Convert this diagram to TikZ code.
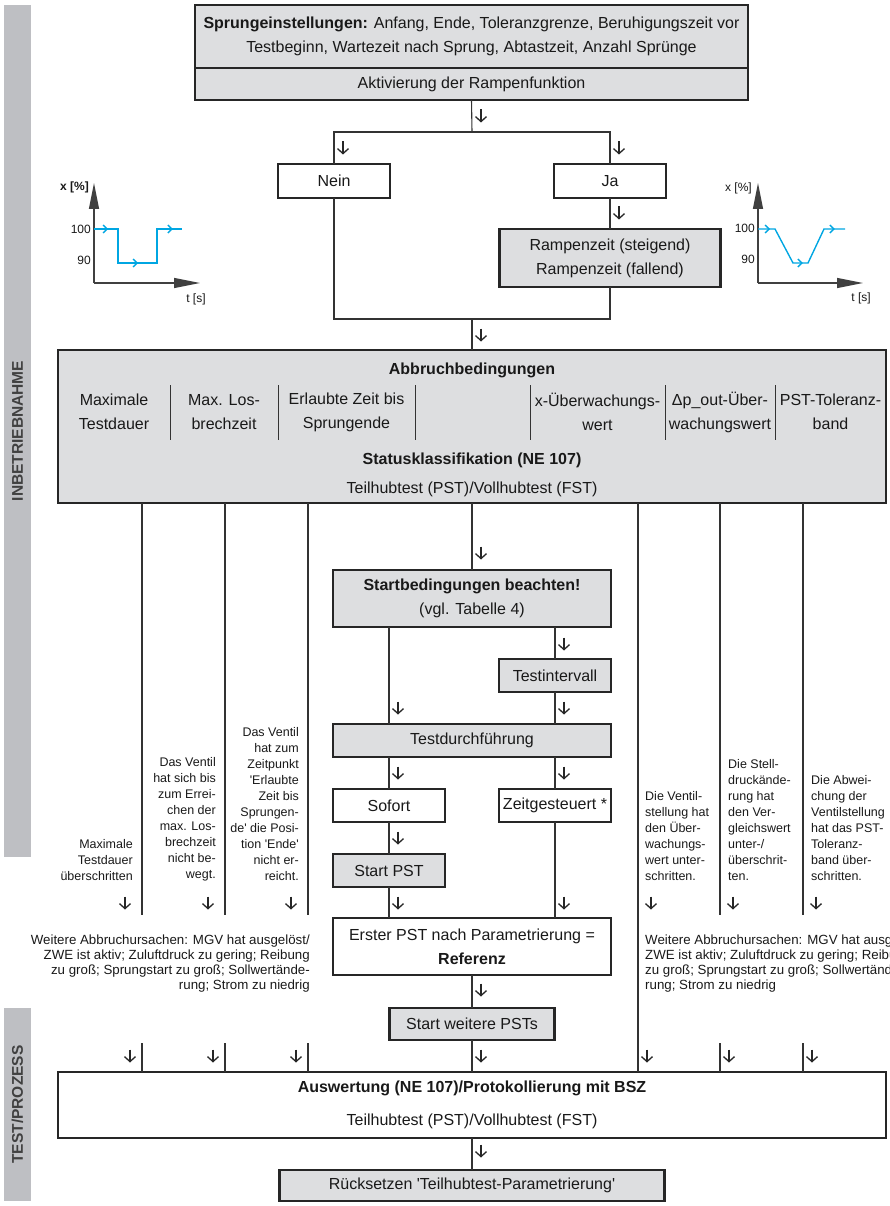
\documentclass[tikz,border=0pt]{standalone}
\usepackage{fontspec}
\setmainfont{Liberation Sans}
\usetikzlibrary{arrows.meta,positioning,decorations.markings}

\definecolor{boxgray}{RGB}{221,222,224}
\definecolor{bargray}{RGB}{190,191,195}
\definecolor{curveblue}{RGB}{0,166,226}

\tikzset{
  darr/.pic={\draw[line width=1.3pt, black!85, -{Straight Barb[length=5pt,width=11pt]}] (0,6.5) -- (0,-6.5);},
}

\begin{document}
\begin{tikzpicture}[x=1pt, y=1pt,
    every node/.style={font=\fontsize{16}{24}\selectfont, text=black!90},
    box/.style={draw=black!85, line width=2.6pt, fill=white, outer sep=0pt, inner sep=0pt, align=center},
    gbox/.style={box, fill=boxgray},
    phase/.style={fill=bargray, rotate=90, minimum height=27pt, inner sep=0pt, font=\fontsize{15.5}{16}\selectfont\bfseries, text=black!75},
    conn/.style={draw=black!80, line width=1.1pt},
    sep/.style={draw=black!80, line width=1pt},
    reason/.style={font=\fontsize{12.5}{16}\selectfont, inner sep=0pt},
    note/.style={font=\fontsize{13.3}{15}\selectfont, inner sep=0pt},
    axlab/.style={font=\fontsize{12}{14}\selectfont, inner sep=0pt},
    axis/.style={draw=black!75, line width=1.3pt, -{Triangle[length=26pt,width=10pt]}},
    curve/.style={draw=curveblue, line width=1.4pt, postaction=decorate},
  ]
  \useasboundingbox (0,0) rectangle (889,-1206);

  % phase bars
  \node[phase, minimum width=852pt] (inbetr) at (17.5,-431) {INBETRIEBNAHME};
  \node[phase, minimum width=193pt] (testproz) at (17.5,-1104.5) {TEST/PROZESS};

  % step settings
  \node[gbox, minimum width=553pt, minimum height=63pt] (sprung) at (471.5,-36.5)
    {\textbf{Sprungeinstellungen:} Anfang, Ende, Toleranzgrenze, Beruhigungszeit vor\\Testbeginn, Wartezeit nach Sprung, Abtastzeit, Anzahl Sprünge};
  \node[gbox, minimum width=553pt, minimum height=32pt, below=0pt of sprung] (akt) {Aktivierung der Rampenfunktion};

  \coordinate (split) at (472,-132);
  \coordinate (join) at (472,-319);
  \node[box, minimum width=112pt, minimum height=34pt] (nein) at (334,-181) {Nein};
  \node[box, minimum width=112pt, minimum height=34pt] (ja) at (610,-181) {Ja};
  \node[gbox, minimum width=221pt, minimum height=58pt, below=31pt of ja] (ramp) {Rampenzeit (steigend)\\Rampenzeit (fallend)};

  % step graphs
  \coordinate (lo) at (94,-283);
  \draw[axis] (lo) -- ++(0,100);
  \draw[axis] (lo) -- ++(106,0);
  \draw[curve, decoration={markings,
      mark=at position 0.09 with {\arrow{Straight Barb[length=4pt,width=8pt]}},
      mark=at position 0.5 with {\arrow{Straight Barb[length=4pt,width=8pt]}},
      mark=at position 0.942 with {\arrow{Straight Barb[length=4pt,width=8pt]}}}]
    (94,-229) -- (118,-229) -- (118,-263) -- (157,-263) -- (157,-229) -- (182,-229);
  \node[axlab, anchor=east, font=\fontsize{12}{14}\selectfont\bfseries] (lx) at (89,-187) {x [\%]};
  \node[axlab, anchor=east] (l100) at (91,-229) {100};
  \node[axlab, anchor=east] (l90) at (91,-260) {90};
  \node[axlab] (lt) at (196,-299) {t [s]};

  \coordinate (ro) at (758,-283);
  \draw[axis] (ro) -- ++(0,100);
  \draw[axis] (ro) -- ++(105,0);
  \draw[curve, decoration={markings,
      mark=at position 0.093 with {\arrow{Straight Barb[length=4pt,width=8pt]}},
      mark=at position 0.507 with {\arrow{Straight Barb[length=4pt,width=8pt]}},
      mark=at position 0.922 with {\arrow{Straight Barb[length=4pt,width=8pt]}}}]
    (758,-229) -- (775,-229) -- (793,-263) -- (808,-263) -- (824,-229) -- (845,-229);
  \node[axlab, anchor=east] (rx) at (752,-188) {x [\%]};
  \node[axlab, anchor=east] (r100) at (755,-228) {100};
  \node[axlab, anchor=east] (r90) at (755,-259) {90};
  \node[axlab] (rt) at (861,-298) {t [s]};

  % abort conditions
  \node[gbox, minimum width=828pt, minimum height=153pt] (abb) at (472,-426.5) {};
  \node[font=\fontsize{16}{24}\selectfont\bfseries] (abbtit) at (472,-370) {Abbruchbedingungen};
  \node[align=center] (k1) at (114,-412) {Maximale\\Testdauer};
  \node[align=center] (k2) at (224,-412) {Max. Los-\\brechzeit};
  \node[align=center] (k3) at (346.5,-412) {Erlaubte Zeit bis\\Sprungende};
  \node[align=center] (k5) at (597.5,-412) {x-Überwachungs-\\wert};
  \node[align=center] (k6) at (720,-412) {Δp\_out-Über-\\wachungswert};
  \node[align=center] (k7) at (830.5,-412) {PST-Toleranz-\\band};
  \foreach \x in {170,278,415,530,665,775}
    \draw[sep] (\x,-385) -- (\x,-440);
  \node[font=\fontsize{16}{24}\selectfont\bfseries] (status) at (472,-460) {Statusklassifikation (NE 107)};
  \node (abbtest) at (472,-489) {Teilhubtest (PST)/Vollhubtest (FST)};

  % test sequence
  \node[gbox, minimum width=278pt, minimum height=57pt] (startb) at (472,-598.5)
    {\textbf{Startbedingungen beachten!}\\(vgl. Tabelle 4)};
  \node[gbox, minimum width=112pt, minimum height=33pt] (testint) at (555,-675.5) {Testintervall};
  \node[gbox, minimum width=278pt, minimum height=33pt] (testd) at (472,-740.5) {Testdurchführung};
  \node[box, minimum width=112pt, minimum height=33pt] (sofort) at (389,-805.5) {Sofort};
  \node[box, minimum width=112pt, minimum height=33pt] (zeitg) at (555,-805.5) {Zeitgesteuert *};
  \node[gbox, minimum width=112pt, minimum height=33pt, below=32pt of sofort] (startpst) {Start PST};
  \node[box, minimum width=278pt, minimum height=57pt] (erster) at (472,-946.5)
    {Erster PST nach Parametrierung =\\\textbf{Referenz}};
  \node[gbox, minimum width=165pt, minimum height=32pt, below=33pt of erster] (weitere) {Start weitere PSTs};
  \node[box, minimum width=828pt, minimum height=66pt] (ausw) at (472,-1105)
    {\textbf{Auswertung (NE 107)/Protokollierung mit BSZ}\\[9pt]Teilhubtest (PST)/Vollhubtest (FST)};
  \node[gbox, minimum width=385pt, minimum height=31pt, below=32pt of ausw] (reset)
    {Rücksetzen \textquotesingle Teilhubtest-Parametrierung\textquotesingle};

  % reasons
  \node[reason, align=right, anchor=south east] (g1) at (133,-881) {Maximale\\Testdauer\\überschritten};
  \node[reason, align=right, anchor=south east] (g2) at (216,-881)
    {Das Ventil\\hat sich bis\\zum Errei-\\chen der\\max. Los-\\brechzeit\\nicht be-\\wegt.};
  \node[reason, align=right, anchor=south east] (g3) at (299,-881)
    {Das Ventil\\hat zum\\Zeitpunkt\\\textquotesingle Erlaubte\\Zeit bis\\Sprungen-\\de\textquotesingle{} die Posi-\\tion \textquotesingle Ende\textquotesingle\\nicht er-\\reicht.};
  \node[reason, align=left, anchor=south west] (g5) at (645,-881)
    {Die Ventil-\\stellung hat\\den Über-\\wachungs-\\wert unter-\\schritten.};
  \node[reason, align=left, anchor=south west] (g6) at (728,-881)
    {Die Stell-\\druckände-\\rung hat\\den Ver-\\gleichswert\\unter-/\\überschrit-\\ten.};
  \node[reason, align=left, anchor=south west] (g7) at (811,-881)
    {Die Abwei-\\chung der\\Ventilstellung\\hat das PST-\\Toleranz-\\band über-\\schritten.};

  \node[note, align=right, anchor=north east] (wl) at (310,-935)
    {Weitere Abbruchursachen: MGV hat ausgelöst/\\ZWE ist aktiv; Zuluftdruck zu gering; Reibung\\zu groß; Sprungstart zu groß; Sollwertände-\\rung; Strom zu niedrig};
  \node[note, align=left, anchor=north west] (wr) at (645,-935)
    {Weitere Abbruchursachen: MGV hat ausgelöst/\\ZWE ist aktiv; Zuluftdruck zu gering; Reibung\\zu groß; Sprungstart zu groß; Sollwertände-\\rung; Strom zu niedrig};

  % connectors
  \draw[conn] (akt.south) -- (split);
  \draw[conn] (nein.north) -- (nein.north |- split) -- (ja.north |- split) -- (ja.north);
  \draw[conn] (ja) -- (ramp);
  \draw[conn] (nein.south) -- (nein.south |- join) -- (ramp.south |- join) -- (ramp.south);
  \draw[conn] (join) -- (abb.north);
  \draw[conn] (abb.south) -- (startb.north);
  \draw[conn] (startb.south -| sofort) -- (testd.north -| sofort);
  \draw[conn] (startb.south -| testint) -- (testint.north);
  \draw[conn] (testint.south) -- (testd.north -| testint);
  \draw[conn] (testd.south -| sofort) -- (sofort.north);
  \draw[conn] (testd.south -| zeitg) -- (zeitg.north);
  \draw[conn] (sofort) -- (startpst);
  \draw[conn] (startpst.south) -- (erster.north -| startpst);
  \draw[conn] (zeitg.south) -- (erster.north -| zeitg);
  \draw[conn] (erster) -- (weitere);
  \draw[conn] (weitere) -- (ausw.north -| weitere);
  \draw[conn] (ausw.south -| reset) -- (reset);

  \coordinate (cutA) at (0,-915);
  \coordinate (cutB) at (0,-1043);
  \foreach \x/\n in {142/a,225/b,308/c,720/e,803/f} {
    \coordinate (col\n) at (\x,0);
    \draw[conn] (abb.south -| col\n) -- (col\n |- cutA);
    \draw[conn] (col\n |- cutB) -- (ausw.north -| col\n);
  }
  \coordinate (cold) at (638,0);
  \draw[conn] (abb.south -| cold) -- (ausw.north -| cold);

  % arrow marks
  \foreach \p in {(481,-116),(343,-148),(619,-148),(619,-213),(481,-335),(481,-553),
      (398,-708),(564,-644),(564,-708),(398,-773),(564,-773),(398,-838),(398,-903),(564,-903),
      (481,-990),(481,-1056),(481,-1151),
      (125,-903),(208,-903),(291,-903),(651,-903),(733,-903),(816,-903),
      (130,-1056),(213,-1056),(296,-1056),(647,-1056),(729,-1056),(812,-1056)}
    \pic at \p {darr};
\end{tikzpicture}
\end{document}
